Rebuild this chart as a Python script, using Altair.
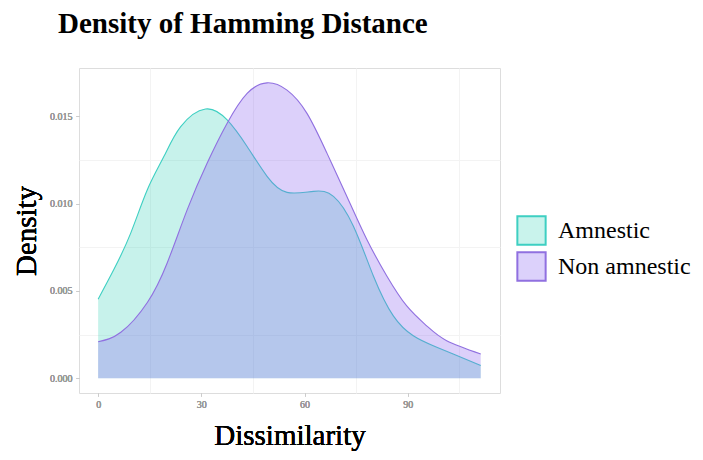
import altair as alt
import pandas as pd

amn_x = [0, 4.6, 9.5, 14.3, 19.1, 24.0, 31.2, 37.5, 43.3, 49.1, 54.9, 62.6, 68.4, 74.2, 80.0, 85.8, 91.6, 97.4, 103.2, 111.2]
amn_y = [0.00453, 0.00624, 0.00833, 0.0108, 0.0127, 0.01442, 0.01543, 0.0148, 0.01328, 0.01157, 0.01065, 0.01071, 0.01042, 0.00871, 0.00586, 0.00357, 0.00243, 0.00186, 0.00139, 0.00072]

non_x = [0, 6.6, 14.3, 20.1, 25.9, 31.7, 37.5, 43.3, 49.1, 54.9, 60.7, 66.5, 72.3, 78.1, 83.9, 89.7, 95.5, 101.3, 111.2]
non_y = [0.00209, 0.00263, 0.00434, 0.00662, 0.00966, 0.01233, 0.01461, 0.01632, 0.01693, 0.01651, 0.01518, 0.0129, 0.01042, 0.00795, 0.00586, 0.00414, 0.003, 0.00215, 0.00139]

groups = ["Amnestic", "Non amnestic"]
fill_colors = ["#45d4bd", "#8c62ee"]
line_colors = ["#3ecfc2", "#9070e0"]
legend_fills = ["#c9f3ec", "#dcd1fb"]

x_ticks = [0, 30, 60, 90]
x_minor = [15, 45, 75, 105]
y_ticks = [0.0, 0.005, 0.010, 0.015]
y_minor = [0.0025, 0.0075, 0.0125]

df = pd.concat([
    pd.DataFrame({"x": amn_x, "y": amn_y, "g": groups[0]}),
    pd.DataFrame({"x": non_x, "y": non_y, "g": groups[1]}),
])

serif = "Liberation Serif"
xs = alt.Scale(domain=[-5.56, 116.8], nice=False, zero=False)
ys = alt.Scale(domain=[-0.00085, 0.01778], nice=False, zero=False)

x_main = alt.X("x:Q", scale=xs, axis=alt.Axis(
    orient="bottom", values=x_ticks, title="Dissimilarity", titleFont=serif, titleFontSize=29,
    titleFontWeight="normal", titleColor="#000", titlePadding=12,
    labelFont=serif, labelFontSize=10, labelFontWeight="normal", labelColor="#999", labelPadding=3,
    tickColor="#ccc", tickSize=3, domain=False, gridColor="#e6e6e6"))
y_main = alt.Y("y:Q", scale=ys, axis=alt.Axis(
    orient="left", values=y_ticks, format=".3f", title="Density", titleFont=serif, titleFontSize=29,
    titleFontWeight="normal", titleColor="#000", titlePadding=8,
    labelFont=serif, labelFontSize=10, labelFontWeight="normal", labelColor="#999", labelPadding=4,
    tickColor="#ccc", tickSize=3, domain=False, gridColor="#e6e6e6"))

x_min_enc = alt.X("x:Q", scale=xs, axis=alt.Axis(
    values=x_minor, labels=False, ticks=False, domain=False, title=None,
    gridColor="#f3f3f3", orient="bottom"))
y_min_enc = alt.Y("y:Q", scale=ys, axis=alt.Axis(
    values=y_minor, labels=False, ticks=False, domain=False, title=None,
    gridColor="#f3f3f3", orient="left"))

minor = alt.Chart(df).mark_point(opacity=0).encode(x=x_min_enc, y=y_min_enc)

leg = dict(title=None, orient="none", legendX=437, legendY=147,
           symbolType="square", symbolSize=800, symbolStrokeWidth=2, symbolOpacity=1,
           labelFont=serif, labelFontSize=24, labelColor="#000", labelLimit=400,
           labelOffset=11, rowPadding=-1)
legend_layer = alt.Chart(df).mark_square(opacity=0).encode(
    x=alt.X("x:Q", scale=xs, axis=None),
    y=alt.Y("y:Q", scale=ys, axis=None),
    fill=alt.Fill("g:N", scale=alt.Scale(domain=groups, range=legend_fills), legend=alt.Legend(**leg)),
    stroke=alt.Stroke("g:N", scale=alt.Scale(domain=groups, range=line_colors), legend=alt.Legend(**leg)),
)

layers = [minor]
for i, g in enumerate(groups):
    base = alt.Chart(df).transform_filter(alt.datum.g == g)
    layers.append(base.mark_area(interpolate="natural", fillOpacity=0.3,
                                 fill=fill_colors[i]).encode(x=x_main, y=y_main))
    layers.append(base.mark_line(interpolate="natural", strokeWidth=1.1,
                                 stroke=line_colors[i]).encode(x=x_main, y=y_main))
layers.append(legend_layer)

chart = alt.layer(*layers).resolve_axis(x="independent", y="independent").properties(
    width=421, height=325,
    title=alt.TitleParams("Density of Hamming Distance", font=serif, fontSize=29,
                          fontWeight="bold", color="#000", anchor="start", frame="group",
                          dx=-21, offset=29),
    autosize=alt.AutoSizeParams(type="none"),
    padding={"left": 71, "top": 60, "right": 192, "bottom": 60},
).configure_view(stroke="#d4d4d4", strokeWidth=1).configure(background="white")

chart.save("out.html", embed_options={"renderer": "svg", "actions": False})
